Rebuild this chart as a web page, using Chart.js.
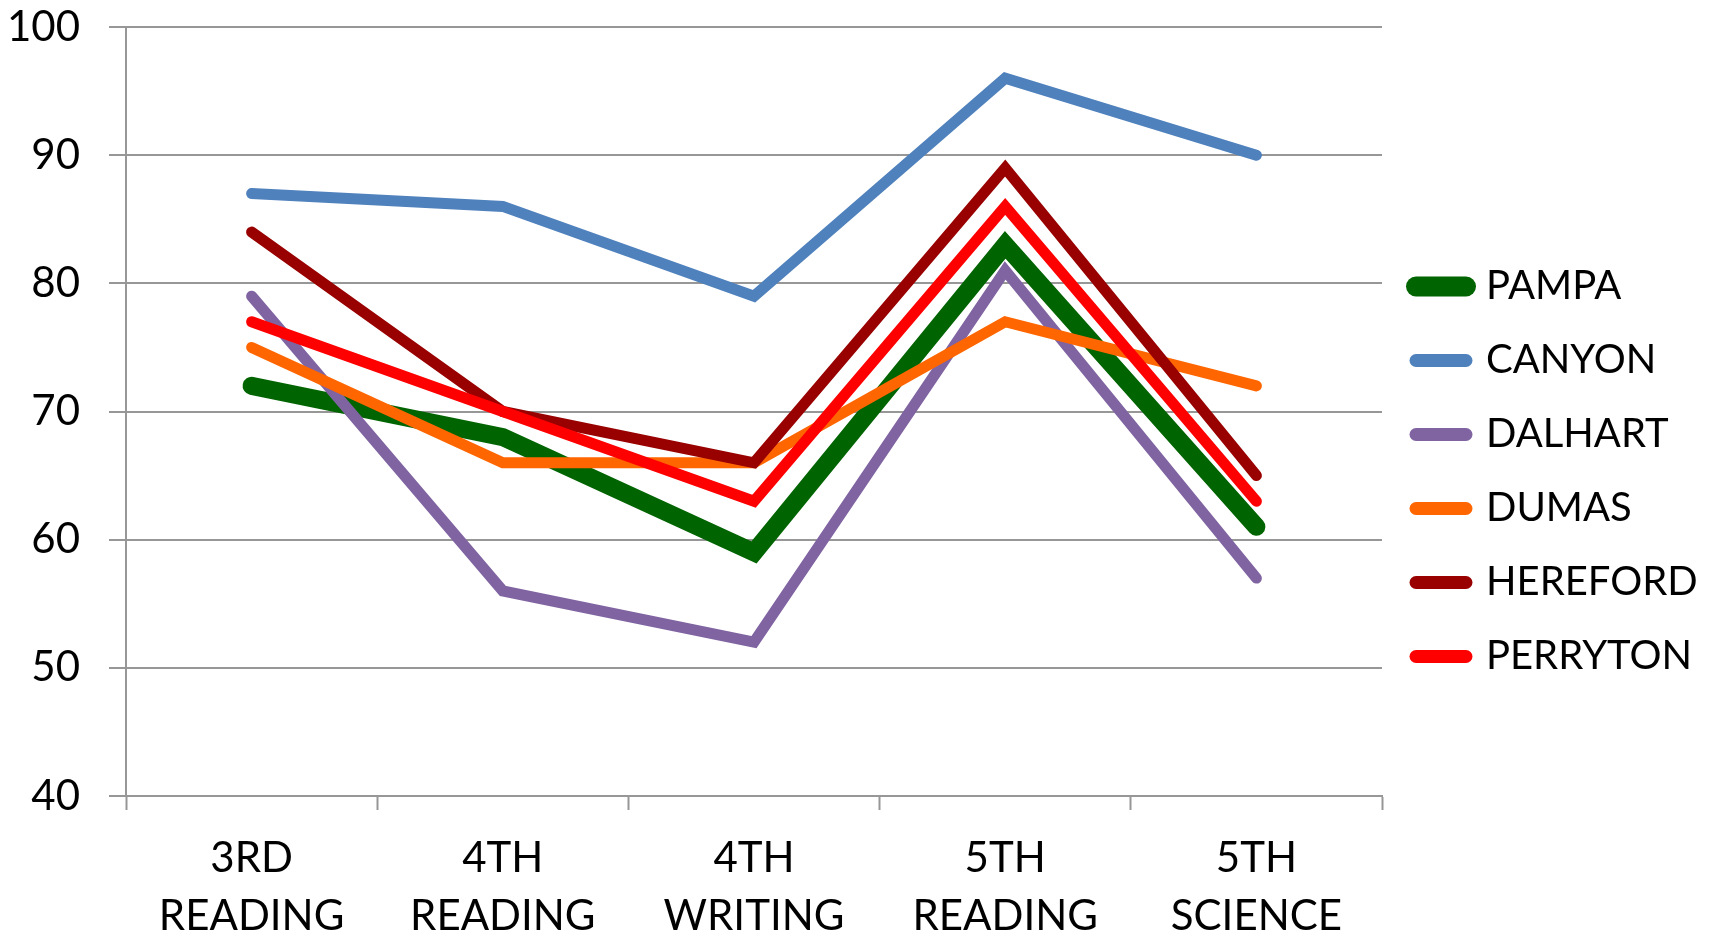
<!DOCTYPE html>
<html>
<head>
<meta charset="utf-8">
<script src="https://cdn.jsdelivr.net/npm/chart.js@4"></script>
<style>
	html, body { margin: 0; padding: 0; background: #ffffff; }
	#wrap { width: 1709px; height: 943px; position: relative; }
</style>
</head>
<body>
<div id="wrap"><canvas id="grafica"></canvas></div>
<script>
//* Categorias del eje x (dos lineas cada una)
const categorias = [
	["3RD", "READING"],
	["4TH", "READING"],
	["4TH", "WRITING"],
	["5TH", "READING"],
	["5TH", "SCIENCE"],
];
//* Valores de cada escuela
const pampa = [72, 68, 59, 83, 61];
const canyon = [87, 86, 79, 96, 90];
const dalhart = [79, 56, 52, 81, 57];
const dumas = [75, 66, 66, 77, 72];
const hereford = [84, 70, 66, 89, 65];
const perryton = [77, 70, 63, 86, 63];
//* Eje y
const yMin = 40;
const yMax = 100;
const yPaso = 10;

//* Series: nombre, datos, color, grosor
const series = [
	["PAMPA", pampa, "#006400", 18],
	["CANYON", canyon, "#4f81bd", 11],
	["DALHART", dalhart, "#8064a2", 11],
	["DUMAS", dumas, "#ff6600", 11],
	["HEREFORD", hereford, "#990000", 11],
	["PERRYTON", perryton, "#ff0000", 11],
];

const fuente = "Lato";
const gris = "#979797";
const tamLeyenda = 40;
const padLeyenda = 34;
const cajaLeyenda = 50;

//* Medimos el texto mas largo de la leyenda para dejar el area del grafico en su lugar
const mctx = document.createElement("canvas").getContext("2d");
mctx.font = tamLeyenda + "px " + fuente;
let largo = 0;
series.forEach((s) => {
	largo = Math.max(largo, mctx.measureText(s[0]).width);
});
//* padding + caja + medio texto + texto + extra de la leyenda
const anchoLeyenda = padLeyenda + cajaLeyenda + tamLeyenda / 2 + largo + 10;
const padDerecho = 1709 - 1381 - anchoLeyenda - 1;

const datasets = series.map((s, i) => ({
	label: s[0],
	data: s[1],
	borderColor: s[2],
	backgroundColor: s[2],
	borderWidth: s[3],
	borderCapStyle: "round",
	borderJoinStyle: "miter",
	pointRadius: 0,
	pointHoverRadius: 0,
	tension: 0,
	fill: false,
	//* la primera serie queda abajo
	order: series.length - i,
}));

//* Etiquetas de la leyenda con puntas redondas
const etiquetas = (chart) => {
	const items = Chart.defaults.plugins.legend.labels.generateLabels(chart);
	items.forEach((it) => {
		it.lineCap = "round";
		it.lineWidth = series[it.datasetIndex][3] + 2;
	});
	return items;
};

const ctx = document.getElementById("grafica");
const grafica = new Chart(ctx, {
	type: "line",
	data: { labels: categorias, datasets: datasets },
	options: {
		responsive: true,
		maintainAspectRatio: false,
		animation: false,
		layout: { padding: { left: 0, top: 0, bottom: 0, right: padDerecho } },
		plugins: {
			tooltip: { enabled: false },
			legend: {
				position: "right",
				align: "center",
				labels: {
					usePointStyle: true,
					pointStyle: "line",
					pointStyleWidth: cajaLeyenda,
					padding: padLeyenda,
					color: "#000000",
					font: { family: fuente, size: tamLeyenda },
					generateLabels: etiquetas,
					sort: (a, b) => a.datasetIndex - b.datasetIndex,
				},
			},
		},
		scales: {
			x: {
				offset: true,
				grid: {
					display: true,
					drawOnChartArea: false,
					drawTicks: true,
					tickLength: 14,
					tickWidth: 2,
					tickColor: gris,
					offset: true,
				},
				border: { display: true, color: gris, width: 2 },
				ticks: {
					color: "#000000",
					padding: 19,
					maxRotation: 0,
					autoSkip: false,
					font: { family: fuente, size: 42, lineHeight: 58 / 42 },
				},
				afterFit: (s) => {
					s.height = 943 - 796;
				},
			},
			y: {
				min: yMin,
				max: yMax,
				ticks: {
					stepSize: yPaso,
					color: "#000000",
					padding: 29,
					font: { family: fuente, size: 42 },
				},
				grid: {
					color: gris,
					lineWidth: 2,
					drawTicks: true,
					tickLength: 17,
					tickColor: gris,
				},
				border: { display: true, color: gris, width: 2 },
				afterFit: (s) => {
					s.width = 126;
					s.paddingTop = 27;
					s.paddingBottom = 27;
				},
			},
		},
	},
});
</script>
</body>
</html>
